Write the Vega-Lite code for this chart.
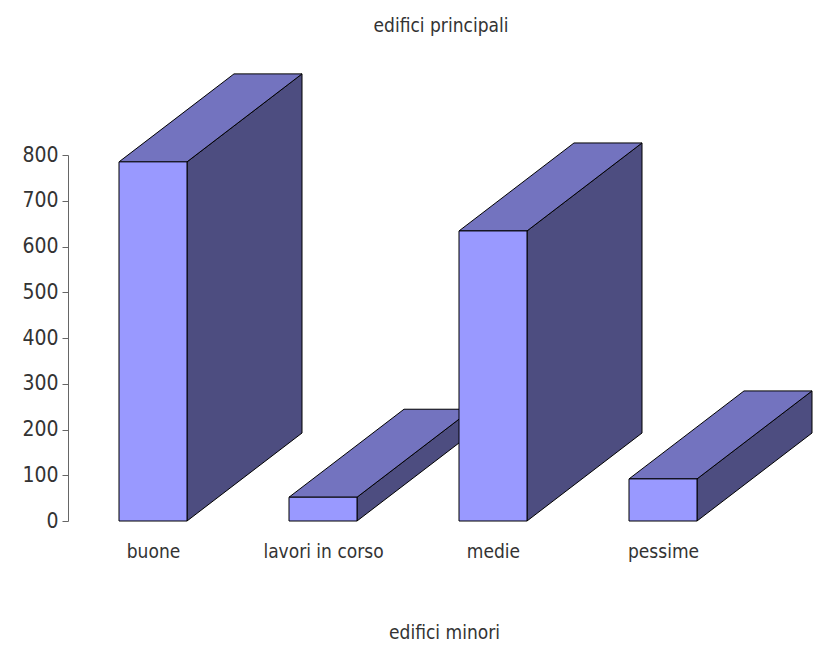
{
  "$schema": "https://vega.github.io/schema/vega-lite/v6.json",
  "autosize": "none",
  "width": 680,
  "height": 366,
  "padding": {"left": 68, "top": 155, "right": 66, "bottom": 124},
  "background": "white",
  "config": {
    "view": {"stroke": null},
    "font": "DejaVu Sans Condensed",
    "axis": {"labelFont": "DejaVu Sans Condensed", "titleFont": "DejaVu Sans Condensed", "labelFontSize": 19, "titleFontSize": 19, "labelColor": "#333", "titleColor": "#333", "titleFontWeight": "normal", "grid": false},
    "title": {"font": "DejaVu Sans Condensed", "fontSize": 19, "fontWeight": "normal", "color": "#333"}
  },
  "title": {"text": "edifici principali", "frame": "group", "anchor": "middle", "dx": 33, "offset": 27, "baseline": "middle"},
  "data": {
    "values": [
      {"categoria": "buone", "i": 0, "v": 785},
      {"categoria": "lavori in corso", "i": 1, "v": 52},
      {"categoria": "medie", "i": 2, "v": 634},
      {"categoria": "pessime", "i": 3, "v": 92}
    ]
  },
  "layer": [
    {
      "transform": [
        {"calculate": "[0,1]", "as": "ks"},
        {"flatten": ["ks"], "as": ["k"]},
        {"calculate": "datum.i + 0.2 + datum.k * 0.6765", "as": "px"},
        {"calculate": "datum.v + datum.k * 192.3", "as": "py"},
        {"calculate": "datum.k * 192.3", "as": "py2"}
      ],
      "mark": {"type": "area", "fill": "#4d4d80", "stroke": "black", "strokeWidth": 1, "opacity": 1},
      "encoding": {
        "x": {"field": "px", "type": "quantitative", "scale": {"domain": [-0.5, 3.5], "nice": false, "zero": false},
          "axis": {"values": [0, 1, 2, 3], "labelExpr": "['buone','lavori in corso','medie','pessime'][datum.value]", "domain": false, "ticks": false, "labelPadding": 21, "title": "edifici minori", "titleX": 376, "titleY": 111, "titleBaseline": "middle", "titleAlign": "center"}},
        "y": {"field": "py", "type": "quantitative", "scale": {"domain": [0, 800], "nice": false},
          "axis": {"values": [0, 100, 200, 300, 400, 500, 600, 700, 800], "title": null, "domainColor": "#666", "tickColor": "#666", "tickSize": 6, "labelPadding": 4, "labelFontSize": 21}},
        "y2": {"field": "py2"},
        "detail": {"field": "categoria"}
      }
    },
    {
      "transform": [
        {"calculate": "[0,1,2,3]", "as": "ks"},
        {"flatten": ["ks"], "as": ["k"]},
        {"calculate": "datum.i + (datum.k == 0 ? -0.2 : datum.k == 1 ? 0.2 : datum.k == 2 ? 0.4765 : 0.8765)", "as": "px"},
        {"calculate": "datum.v + (datum.k == 0 ? 0 : datum.k == 1 ? 113.7 : 192.3)", "as": "py"},
        {"calculate": "datum.v + (datum.k <= 1 ? 0 : datum.k == 2 ? 78.6 : 192.3)", "as": "py2"}
      ],
      "mark": {"type": "area", "fill": "#7373bf", "stroke": "black", "strokeWidth": 1, "opacity": 1},
      "encoding": {
        "x": {"field": "px", "type": "quantitative"},
        "y": {"field": "py", "type": "quantitative"},
        "y2": {"field": "py2"},
        "detail": {"field": "categoria"}
      }
    },
    {
      "transform": [
        {"calculate": "datum.i - 0.2", "as": "x1"},
        {"calculate": "datum.i + 0.2", "as": "x2"}
      ],
      "mark": {"type": "rect", "fill": "#9999ff", "stroke": "black", "strokeWidth": 1},
      "encoding": {
        "x": {"field": "x1", "type": "quantitative"},
        "x2": {"field": "x2"},
        "y": {"field": "v", "type": "quantitative"},
        "y2": {"datum": 0}
      }
    }
  ]
}
